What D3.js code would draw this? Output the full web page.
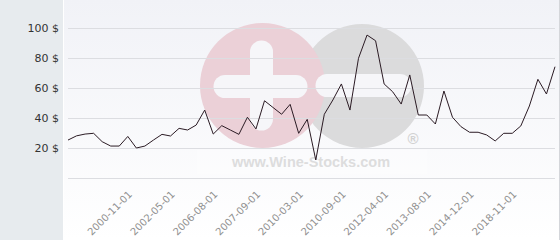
<!DOCTYPE html>
<html>
<head>
<meta charset="utf-8">
<script src="https://cdn.jsdelivr.net/npm/d3@7"></script>
<style>
  html, body { margin: 0; padding: 0; background: #fff; }
  svg { display: block; }
</style>
</head>
<body>
<div id="chart"></div>
<script>
const prices = [25.3, 28.1, 29.3, 29.8, 24.2, 21.3, 21.3, 27.7, 20, 21.3,
  25.3, 29.1, 28, 33.1, 32, 35.3, 45.3, 29.3, 34.9, 32,
  29.1, 40.5, 32.7, 51.5, 47, 42.5, 49.1, 29.8, 39.1, 12,
  42.5, 52, 62.7, 45.3, 79.8, 95.3, 91.5, 62.7, 57.5, 49.3,
  68.7, 42, 42, 36, 58, 40.5, 34.2, 30.5, 30.5, 28.7,
  24.7, 29.8, 29.8, 34.7, 48, 65.8, 56, 74.2];
const tickIndex = [7, 12, 17, 22, 27, 32, 37, 42, 47, 52];
const tickLabels = ["2000-11-01", "2002-05-01", "2006-08-01", "2007-09-01", "2010-03-01",
  "2010-09-01", "2012-04-01", "2013-08-01", "2014-12-01", "2018-11-01"];
const yTicks = [0, 20, 40, 60, 80, 100];

const W = 560, H = 240;
const svg = d3.select("#chart").append("svg").attr("width", W).attr("height", H);

const defs = svg.append("defs");
const grad = defs.append("linearGradient").attr("id", "bg").
  attr("x1", 0).attr("y1", 0).attr("x2", 0).attr("y2", 1);
grad.append("stop").attr("offset", "0%").attr("stop-color", "#f1f2f7");
grad.append("stop").attr("offset", "100%").attr("stop-color", "#ffffff");

// left panel + plot background
svg.append("rect").attr("width", 64).attr("height", H).attr("fill", "#e7ebee");
svg.append("rect").attr("x", 64).attr("width", W - 64).attr("height", H).attr("fill", "url(#bg)");
svg.append("line").attr("x1", 63.5).attr("x2", 63.5).attr("y1", 0).attr("y2", H).
  attr("stroke", "#ffffff");
svg.append("line").attr("x1", 559.5).attr("x2", 559.5).attr("y1", 0).attr("y2", H).
  attr("stroke", "#d4d6da");

const x = d3.scaleLinear().domain([0, prices.length - 1]).range([68, 555]);
const y = d3.scaleLinear().domain([0, 100]).range([178, 28]);

// watermark
const wm = svg.append("g");
wm.append("rect").attr("x", 197).attr("y", 150).attr("width", 230).attr("height", 24).
  attr("fill", "#ffffff").attr("opacity", 0.3);
wm.append("circle").attr("cx", 362).attr("cy", 86).attr("r", 62).attr("fill", "#dbdbdc");
wm.append("circle").attr("cx", 262.5).attr("cy", 85.5).attr("r", 62.5).attr("fill", "#ebd0d7");
const bar = (x1, y1, x2, y2) => wm.append("line").attr("x1", x1).attr("y1", y1).
  attr("x2", x2).attr("y2", y2).attr("stroke", "#f6f6f9").attr("stroke-width", 23).
  attr("stroke-linecap", "round");
bar(261.5, 52, 261.5, 119);
bar(225, 86.5, 296, 86.5);
bar(327, 85.5, 400, 85.5);
wm.append("text").attr("x", 311).attr("y", 167).attr("text-anchor", "middle").
  attr("font-family", "Liberation Sans, Arial, sans-serif").attr("font-weight", "bold").
  attr("font-size", 14.5).attr("fill", "#dddddd").text("www.Wine-Stocks.com");
wm.append("text").attr("x", 413).attr("y", 144).attr("text-anchor", "middle").
  attr("font-family", "Liberation Sans, Arial, sans-serif").attr("font-weight", "bold").
  attr("font-size", 15).attr("fill", "#d2d2d2").text("®");

// grid + y labels
svg.append("g").selectAll("line").data(yTicks).join("line").
  attr("x1", 68).attr("x2", 555).
  attr("y1", d => Math.round(y(d)) + 0.5).attr("y2", d => Math.round(y(d)) + 0.5).
  attr("stroke", "#dcdde1");
svg.append("g").selectAll("text").data(yTicks.filter(d => d > 0)).join("text").
  attr("x", 59).attr("y", d => y(d) + 4).attr("text-anchor", "end").
  attr("font-family", "DejaVu Sans, sans-serif").attr("font-size", 11).
  attr("fill", "#333").text(d => `${d} $`);

// x labels
svg.append("g").selectAll("text").data(tickIndex).join("text").
  attr("transform", d => `translate(${x(d) + 5},195) rotate(-45)`).
  attr("text-anchor", "end").
  attr("font-family", "DejaVu Sans, sans-serif").attr("font-size", 10).
  attr("fill", "#909090").text((d, i) => tickLabels[i]);

// price line
const line = d3.line().x((d, i) => x(i)).y(d => y(d));
svg.append("path").datum(prices).attr("d", line).
  attr("fill", "none").attr("stroke", "#2b1b24").attr("stroke-width", 1);
</script>
</body>
</html>
